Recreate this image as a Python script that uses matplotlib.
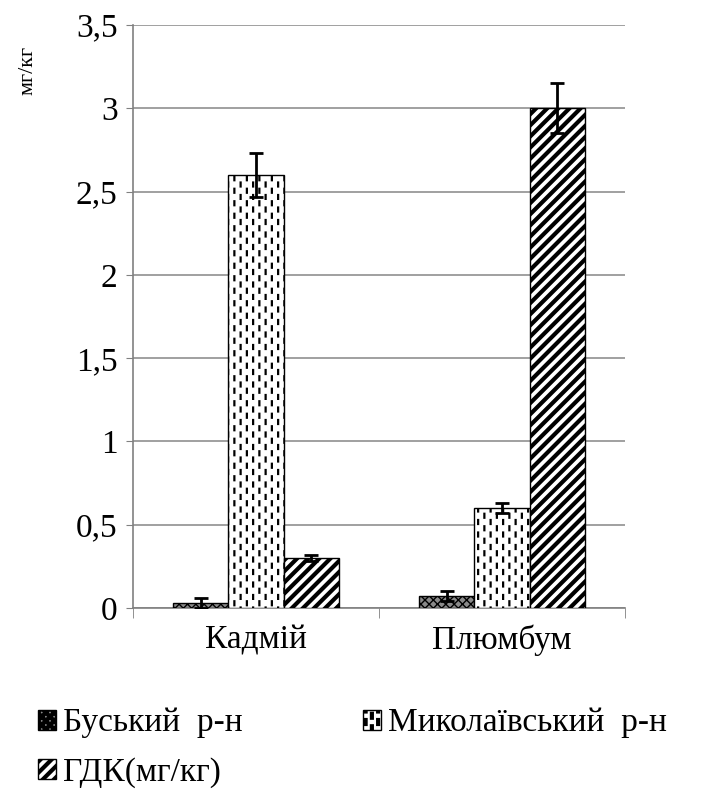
import warnings
warnings.filterwarnings("ignore")
import numpy as np
import matplotlib
matplotlib.use("Agg")
import matplotlib.pyplot as plt
import matplotlib.hatch as mhatch
from matplotlib.path import Path

# ---- data ----
categories = ["Кадмій", "Плюмбум"]
series_names = ["Буський  р-н", "Миколаївський  р-н", "ГДК(мг/кг)"]
busk = [0.03, 0.07]
busk_err = [0.03, 0.03]
mykol = [2.60, 0.60]
mykol_err = [0.13, 0.03]
gdk = [0.30, 3.00]
gdk_err = [0.02, 0.15]
yticks = [0, 0.5, 1, 1.5, 2, 2.5, 3, 3.5]
ytick_labels = ["0", "0,5", "1", "1,5", "2", "2,5", "3", "3,5"]
ylabel = "мг/кг"


# ---- custom hatch: staggered short vertical dashes (':') and diagonal ('~') ----
class VDashHatch(mhatch.HatchPatternBase):
    def __init__(self, hatch, density):
        self.nc = 16 if hatch.count(':') else 0
        self.nr = 8
        self.num_vertices = self.nc * self.nr * 2

    def set_vertices_and_codes(self, vertices, codes):
        k = 0
        for i in range(self.nc):
            x = (i + 0.5) / self.nc
            off = 0.5 / self.nr if i % 2 else 0.0
            for j in range(self.nr):
                y0 = j / self.nr + off + 0.01
                vertices[k] = (x, y0)
                vertices[k + 1] = (x, y0 + 0.04)
                codes[k] = Path.MOVETO
                codes[k + 1] = Path.LINETO
                k += 2


class DiagHatch(mhatch.HatchPatternBase):
    def __init__(self, hatch, density):
        self.m = 9 if hatch.count('~') else 0
        self.num_vertices = (2 * self.m + 1) * 2 if self.m else 0

    def set_vertices_and_codes(self, vertices, codes):
        cs = np.arange(-self.m, self.m + 1) / self.m
        vertices[0::2, 0] = cs
        vertices[0::2, 1] = 0.0
        vertices[1::2, 0] = cs + 1.0
        vertices[1::2, 1] = 1.0
        codes[0::2] = Path.MOVETO
        codes[1::2] = Path.LINETO


mhatch._hatch_types.append(VDashHatch)
mhatch._hatch_types.append(DiagHatch)

plt.rcParams['font.family'] = ['Liberation Serif', 'DejaVu Serif']
plt.rcParams['hatch.color'] = 'black'

fig = plt.figure(figsize=(7.15, 8.01), dpi=100)
ax = fig.add_axes([133 / 715, 1 - 608 / 801, (625 - 133) / 715, (608 - 25) / 801])

x = np.arange(len(categories)) + 0.5
w = 0.2236
err_kw = dict(ecolor='black', elinewidth=2, capsize=5, capthick=2)

plt.rcParams['hatch.linewidth'] = 1.0
b1 = ax.bar(x - w, busk, w, yerr=busk_err, facecolor='#8a8a8a', edgecolor='black',
            linewidth=1, hatch='xxxx', label=series_names[0], error_kw=err_kw, zorder=3)
plt.rcParams['hatch.linewidth'] = 1.6
b2 = ax.bar(x, mykol, w, yerr=mykol_err, facecolor='white', edgecolor='black',
            linewidth=1, hatch=':', label=series_names[1], error_kw=err_kw, zorder=3)
plt.rcParams['hatch.linewidth'] = 3.0
b3 = ax.bar(x + w, gdk, w, yerr=gdk_err, facecolor='white', edgecolor='black',
            linewidth=1, hatch='~', label=series_names[2], error_kw=err_kw, zorder=3)

ax.set_xlim(0, 2)
ax.set_ylim(0, 3.5)
ax.set_yticks(yticks)
ax.set_yticklabels(ytick_labels, fontsize=24)
ax.set_xticks(x)
ax.set_xticklabels(categories, fontsize=24)
ax.set_xticks([0, 1, 2], minor=True)
ax.tick_params(axis='x', which='major', length=0, pad=12)
ax.tick_params(axis='x', which='minor', length=7, color='#808080')
ax.tick_params(axis='y', length=5, color='#808080', pad=6)
ax.grid(axis='y', color='#909090', linewidth=1.2, zorder=0)
ax.set_axisbelow(True)
for s in ['top', 'right']:
    ax.spines[s].set_visible(False)
for s in ['left', 'bottom']:
    ax.spines[s].set_color('#808080')
    ax.spines[s].set_linewidth(1.2)

fig.text(28 / 715, 1 - 70 / 801, ylabel, rotation=90, ha='center', va='center', fontsize=16)

handles = [b1, b3, b2]
labels = [series_names[0], series_names[2], series_names[1]]
fig.legend(handles, labels, ncol=2, loc='upper left', bbox_to_anchor=(38 / 715, 1 - 708 / 801),
           frameon=False, fontsize=24, handlelength=0.55, handleheight=0.55, handletextpad=0.2,
           columnspacing=3.6, labelspacing=0.55, borderaxespad=0, borderpad=0)

fig.savefig('out.png', dpi=100)
